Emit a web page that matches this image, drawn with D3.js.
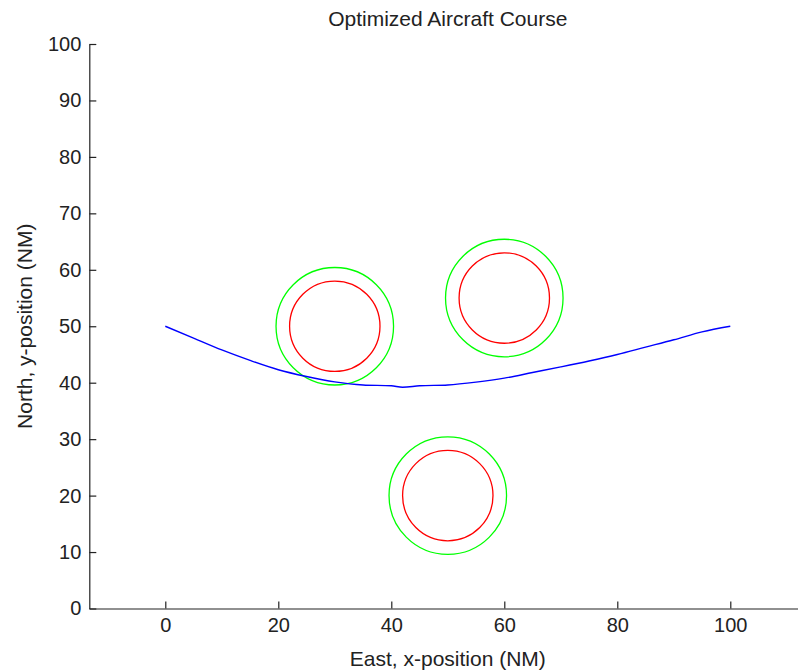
<!DOCTYPE html>
<html>
<head>
<meta charset="utf-8">
<script src="https://cdn.jsdelivr.net/npm/d3@7"></script>
<style>
  html, body { margin: 0; padding: 0; background: #fff; }
  svg { display: block; }
  text { font-family: "Liberation Sans", Arial, sans-serif; fill: #222; }
</style>
</head>
<body>
<div id="chart"></div>
<script>
// optimized course
const courseX = [0, 5, 10, 15, 20, 25, 30, 35, 40, 42, 45, 50, 55, 60, 65, 70, 75, 80, 85, 90, 95, 100];
const courseY = [50.0, 47.9, 45.8, 43.95, 42.3, 41.1, 40.15, 39.6, 39.45, 39.2, 39.45, 39.6, 40.1, 40.8, 41.8, 42.8, 43.85, 45.0, 46.3, 47.6, 49.0, 50.0];

// obstacles: centre, inner radius (red), outer radius (green)
const obstacleX = [30, 60, 50];
const obstacleY = [50, 55, 20];
const innerRadius = [8, 8, 8];
const outerRadius = [10.4, 10.4, 10.4];

const xTicks = [0, 20, 40, 60, 80, 100];
const yTicks = [0, 10, 20, 30, 40, 50, 60, 70, 80, 90, 100];
const xLim = [-13.45, 113.45];
const yLim = [0, 100];

const width = 798;
const height = 672;
const plotLeft = 89.3;
const plotBottom = 608.5;
const plotTop = 44;
const pxPerUnit = 5.65;

const svg = d3.select('#chart')
  .append('svg')
  .attr('width', width)
  .attr('height', height);

const x = d3.scaleLinear()
  .domain(xLim)
  .range([plotLeft, plotLeft + (xLim[1] - xLim[0]) * pxPerUnit]);

const y = d3.scaleLinear()
  .domain(yLim)
  .range([plotBottom, plotTop]);

// axes
const xAxis = svg.append('g')
  .attr('transform', `translate(0, ${plotBottom})`)
  .call(d3.axisBottom(x).tickValues(xTicks).tickSizeInner(-7).tickSizeOuter(0).tickPadding(9));

const yAxis = svg.append('g')
  .attr('transform', `translate(${plotLeft}, 0)`)
  .call(d3.axisLeft(y).tickValues(yTicks).tickSizeInner(-7).tickSizeOuter(0).tickPadding(8));

[xAxis, yAxis].forEach(g => {
  g.select('.domain').attr('stroke', '#222').attr('stroke-width', 1.2);
  g.selectAll('.tick line').attr('stroke', '#222').attr('stroke-width', 1.2);
  g.selectAll('.tick text')
    .style('font-family', '"Liberation Sans", Arial, sans-serif')
    .style('font-size', '20px')
    .attr('fill', '#222');
});

// obstacles
const obstacles = obstacleX.map((cx, i) => ({ cx, cy: obstacleY[i], rIn: innerRadius[i], rOut: outerRadius[i] }));

svg.append('g')
  .selectAll('circle')
  .data(obstacles)
  .join('circle')
  .attr('cx', d => x(d.cx))
  .attr('cy', d => y(d.cy))
  .attr('r', d => x(d.rOut) - x(0))
  .attr('fill', 'none')
  .attr('stroke', '#00ff00')
  .attr('stroke-width', 1.3);

svg.append('g')
  .selectAll('circle')
  .data(obstacles)
  .join('circle')
  .attr('cx', d => x(d.cx))
  .attr('cy', d => y(d.cy))
  .attr('r', d => x(d.rIn) - x(0))
  .attr('fill', 'none')
  .attr('stroke', '#ff0000')
  .attr('stroke-width', 1.3);

// course
const course = courseX.map((v, i) => [v, courseY[i]]);

svg.append('path')
  .datum(course)
  .attr('fill', 'none')
  .attr('stroke', '#0000ff')
  .attr('stroke-width', 1.4)
  .attr('d', d3.line().x(d => x(d[0])).y(d => y(d[1])).curve(d3.curveMonotoneX));

// labels
const plotCenterX = (x.range()[0] + x.range()[1]) / 2;

svg.append('text')
  .attr('x', plotCenterX)
  .attr('y', 26)
  .attr('text-anchor', 'middle')
  .style('font-size', '21px')
  .text('Optimized Aircraft Course');

svg.append('text')
  .attr('x', plotCenterX)
  .attr('y', 666)
  .attr('text-anchor', 'middle')
  .style('font-size', '21px')
  .text('East, x-position (NM)');

svg.append('text')
  .attr('transform', `translate(32, ${(plotTop + plotBottom) / 2}) rotate(-90)`)
  .attr('text-anchor', 'middle')
  .style('font-size', '21px')
  .text('North, y-position (NM)');
</script>
</body>
</html>
